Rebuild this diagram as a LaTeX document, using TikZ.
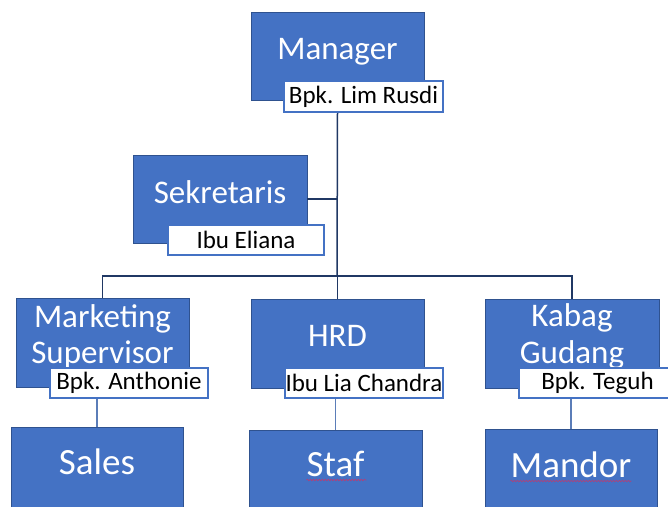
\documentclass[tikz,border=0pt]{standalone}
\usepackage{fontspec}
\setmainfont{Carlito}
\usetikzlibrary{decorations.pathmorphing}
\definecolor{boxblue}{HTML}{4472C4}
\definecolor{boxedge}{HTML}{2F528F}
\definecolor{linenavy}{HTML}{203864}
\definecolor{linelight}{HTML}{5B7DB8}
\definecolor{squiggle}{HTML}{B0407A}
\tikzset{
  posbox/.style={draw=boxedge, line width=0.8pt, fill=boxblue, inner sep=0pt, minimum width=#1},
  namebox/.style={draw=boxblue, line width=1.2pt, fill=white, inner sep=0pt, minimum height=30pt, minimum width=#1, font=\fontsize{25}{30}\selectfont, text=black},
  postext/.style={anchor=base, inner sep=0pt, text=white, font=\fontsize{33}{36}\selectfont},
  lowtext/.style={anchor=base, inner sep=0pt, text=white, font=\fontsize{37}{40}\selectfont},
  upline/.style={draw=linenavy, line width=1.5pt},
  lowline/.style={draw=linelight, line width=1.3pt},
  spell/.style={draw=squiggle, line width=0.6pt, decorate, decoration={snake, amplitude=0.8pt, segment length=3pt}}
}
\begin{document}
\begin{tikzpicture}[x=1pt, y=-1pt]
\useasboundingbox (0,0) rectangle (668,506);
\fill[white] (0,0) rectangle (668,506);

% connectors (drawn first)
\coordinate (bus) at (337,276);

% boxes
\node[posbox=173pt, minimum height=88pt] (manager) at (337.5,56) {};
\node[posbox=174pt, minimum height=88pt] (sekretaris) at (220,199) {};
\node[posbox=173pt, minimum height=89pt] (marketing) at (102.5,342.5) {};
\node[posbox=173pt, minimum height=89pt] (hrd) at (337.5,343.5) {};
\node[posbox=174pt, minimum height=89pt] (kabag) at (572,343.5) {};
\node[posbox=172pt, minimum height=100pt] (sales) at (97,477) {};
\node[posbox=173pt, minimum height=100pt] (staf) at (335.5,480) {};
\node[posbox=172pt, minimum height=100pt] (mandor) at (571,479) {};

% connectors
\draw[upline] (manager.center |- 0,112) -- (bus);
\draw[upline] (sekretaris.east) -- (sekretaris.east -| bus);
\draw[upline] (marketing.north) |- (bus) -| (kabag.north);
\draw[upline] (hrd.north) -- (hrd.north |- bus);

% position texts
\node[postext] (managertxt) at (337.5,59) {Manager};
\node[postext] (sekretaristxt) at (220,203) {Sekretaris};
\node[postext] (marketingtxt1) at (102.5,327) {Marketing};
\node[postext] (marketingtxt2) at (102.5,363) {Supervisor};
\node[postext] (hrdtxt) at (337.5,346) {HRD};
\node[postext] (kabagtxt1) at (572,326) {Kabag};
\node[postext] (kabagtxt2) at (572,363) {Gudang};
\node[lowtext] (salestxt) at (97,474) {Sales};
\node[lowtext] (staftxt) at (335.5,476) {Staf};
\node[lowtext] (mandortxt) at (571,477) {Mandor};

% spell-check underlines
\draw[spell] (staftxt.base west) ++(0,4) -- ++(60,0);
\draw[spell] (mandortxt.base west) ++(0,4) -- ++(121,0);

% name labels
\node[namebox=159pt, minimum height=31pt] (lim) at (363.5,96.5) {Bpk. Lim Rusdi};
\node[namebox=156pt] (eliana) at (246,240) {Ibu Eliana};
\node[namebox=158pt] (anthonie) at (129,383) {Bpk. Anthonie};
\node[namebox=158pt] (chandra) at (364,383) {Ibu Lia Chandra};
\node[namebox=157pt] (teguh) at (597.5,383) {Bpk. Teguh};

% lower connectors
\draw[lowline] (sales.north |- anthonie.south) -- (sales.north);
\draw[lowline] (staf.north |- chandra.south) -- (staf.north);
\draw[lowline] (mandor.north |- teguh.south) -- (mandor.north);
\end{tikzpicture}
\end{document}
